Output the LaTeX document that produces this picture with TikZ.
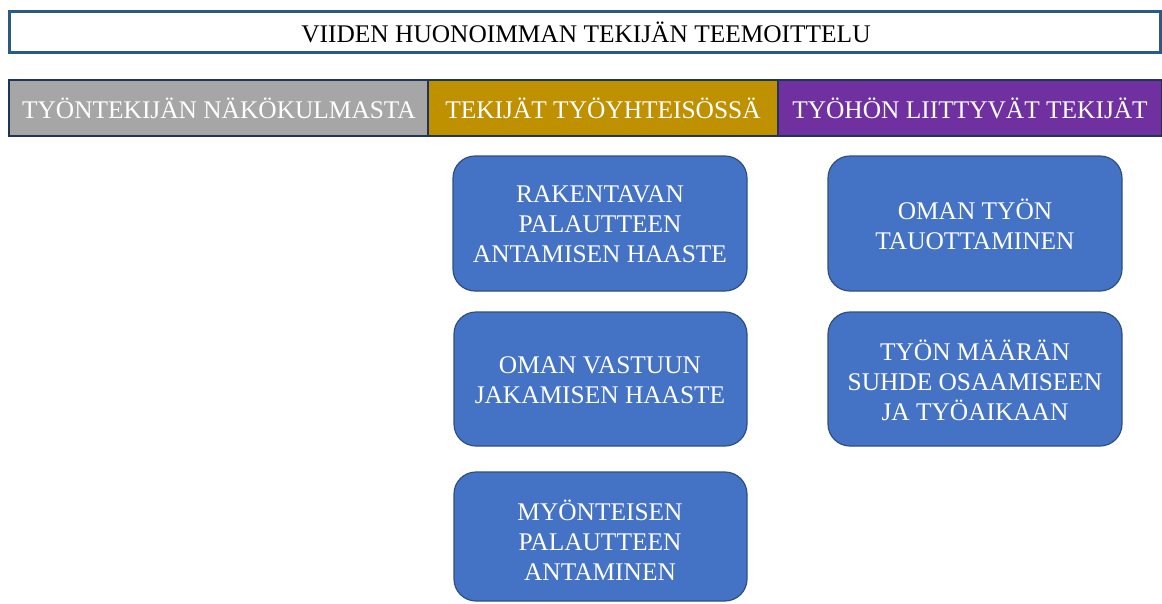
\documentclass[tikz,border=0pt]{standalone}
\usepackage{fontspec}
\setmainfont{Liberation Serif}
\definecolor{titleblue}{HTML}{2B5A88}
\definecolor{hdrline}{HTML}{1F3558}
\definecolor{hgray}{HTML}{A6A6A6}
\definecolor{hgold}{HTML}{BF9000}
\definecolor{hpurple}{HTML}{7030A0}
\definecolor{boxblue}{HTML}{4472C4}
\definecolor{boxline}{HTML}{2F4F80}
\begin{document}
\begin{tikzpicture}[x=1pt,y=-1pt,
  titlebox/.style={draw=titleblue,line width=3pt,fill=white},
  hdr/.style={draw=hdrline,line width=1.2pt,text=white},
  topic/.style={draw=boxline,line width=1.2pt,fill=boxblue,rounded corners=22pt,text=white},
  lbl/.style={text=white,align=center,font=\fontsize{25.4}{30}\selectfont}]
\useasboundingbox (0,0) rectangle (1162,603);
% title
\draw[titlebox] (9.5,11.5) rectangle (1160.5,52);
\node[font=\fontsize{25.4}{28}\selectfont] (title) at (586,32) {VIIDEN HUONOIMMAN TEKIJÄN TEEMOITTELU};
% headers
\draw[hdr,fill=hgray] (9,80) rectangle (428,136);
\draw[hdr,fill=hgold] (428,80) rectangle (778,136);
\draw[hdr,fill=hpurple] (778,80) rectangle (1162,136);
\node[lbl] (h1) at (219,108) {TYÖNTEKIJÄN NÄKÖKULMASTA};
\node[lbl] (h2) at (603,108) {TEKIJÄT TYÖYHTEISÖSSÄ};
\node[lbl] (h3) at (970,108) {TYÖHÖN LIITTYVÄT TEKIJÄT};
% topic boxes
\draw[topic] (453,156) rectangle (747,291);
\draw[topic] (454,312) rectangle (747,446);
\draw[topic] (454,472) rectangle (747,601);
\draw[topic] (828,156) rectangle (1122,291);
\draw[topic] (828,312) rectangle (1122,446);
\node[lbl] (b1) at (600,224) {RAKENTAVAN\\PALAUTTEEN\\ANTAMISEN HAASTE};
\node[lbl] (b2) at (600,380) {OMAN VASTUUN\\JAKAMISEN HAASTE};
\node[lbl] (b3) at (600,540) {MYÖNTEISEN\\PALAUTTEEN\\ANTAMINEN};
\node[lbl] (b4) at (975,224) {OMAN TYÖN\\TAUOTTAMINEN};
\node[lbl] (b5) at (975,380) {TYÖN MÄÄRÄN\\SUHDE OSAAMISEEN\\JA TYÖAIKAAN};
\end{tikzpicture}
\end{document}
